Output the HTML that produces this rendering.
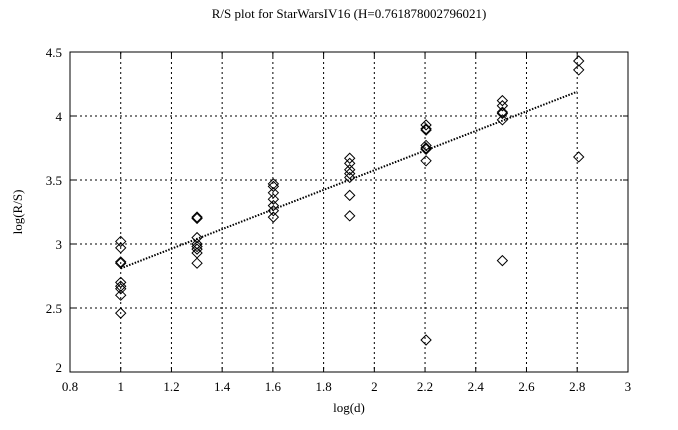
<!DOCTYPE html>
<html><head><style>body{margin:0;background:#fff}svg{display:block}text{font-family:"Liberation Serif",serif;font-size:13px;fill:#000}</style></head><body>
<svg width="678" height="430" xmlns="http://www.w3.org/2000/svg" id="s">
<rect width="678" height="430" fill="#fff"/>
<g id="grid" stroke="#000" stroke-width="1" stroke-dasharray="2,3"></g>
<rect x="70" y="52" width="558" height="320" fill="none" stroke="#000"/>
<g id="ticks"></g>
<g id="pts" fill="none" stroke="#000" stroke-width="1"></g>
<line x1="120.7" y1="268.4" x2="577.2" y2="91.7" stroke="#000" stroke-width="2" stroke-dasharray="1.5,1.5"/>
<text x="349" y="18" text-anchor="middle">R/S plot for StarWarsIV16 (H=0.761878002796021)</text>
<text x="349" y="412" text-anchor="middle">log(d)</text>
<text transform="translate(22,212) rotate(-90)" text-anchor="middle">log(R/S)</text>
</svg>
<script>
const X=v=>70+(v-0.8)*253.6,Y=v=>52+(4.5-v)*128,ns="http://www.w3.org/2000/svg";
function el(p,t,a,txt){const e=document.createElementNS(ns,t);for(const k in a)e.setAttribute(k,a[k]);if(txt)e.textContent=txt;document.getElementById(p).appendChild(e);}
for(let i=1;i<11;i++){const v=0.8+i*0.2,x=X(v);el("grid","line",{x1:x,y1:52,x2:x,y2:372});el("ticks","line",{x1:x,y1:372,x2:x,y2:367,stroke:"#000"});el("ticks","line",{x1:x,y1:52,x2:x,y2:57,stroke:"#000"});}
for(let i=0;i<=11;i++){const v=0.8+i*0.2;el("ticks","text",{x:X(v),y:391,"text-anchor":"middle"},(Math.round(v*10)/10).toString());}
for(let i=1;i<5;i++){const v=2+i*0.5,y=Y(v);el("grid","line",{x1:70,y1:y,x2:628,y2:y});el("ticks","line",{x1:70,y1:y,x2:75,y2:y,stroke:"#000"});el("ticks","line",{x1:628,y1:y,x2:623,y2:y,stroke:"#000"});}
for(let i=0;i<=5;i++){const v=2+i*0.5;el("ticks","text",{x:62,y:Y(v)+(i==0?0:5),"text-anchor":"end"},v.toString());}
const d={1:[3.02,2.97,2.86,2.85,2.70,2.67,2.65,2.60,2.46],1.301:[3.21,3.20,3.05,3.00,2.98,2.96,2.93,2.85],1.602:[3.47,3.45,3.40,3.35,3.30,3.26,3.21],1.903:[3.67,3.63,3.58,3.55,3.52,3.38,3.22],2.204:[3.93,3.90,3.89,3.77,3.75,3.74,3.65,2.25],2.505:[4.12,4.08,4.03,4.02,3.97,2.87],2.806:[4.43,4.36,3.68]};
for(const k in d)for(const v of d[k]){const x=X(+k),y=Y(v);el("pts","path",{d:`M${x} ${y-5}L${x+5} ${y}L${x} ${y+5}L${x-5} ${y}Z`});}
</script>
</body></html>
